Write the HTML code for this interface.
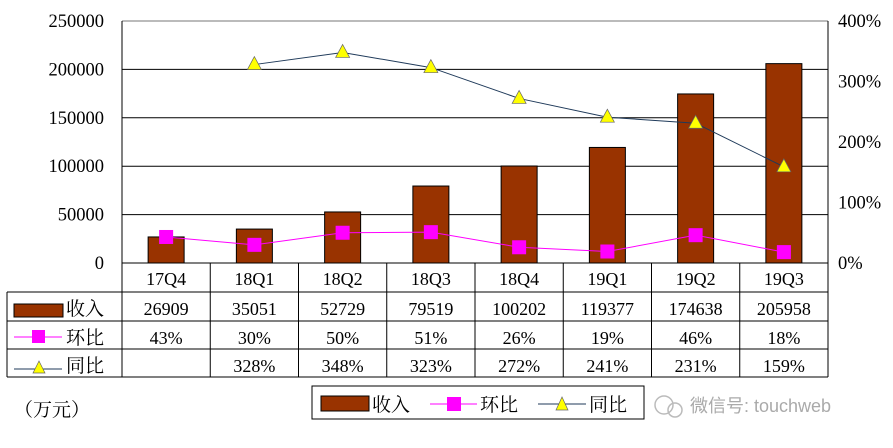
<!DOCTYPE html>
<html><head><meta charset="utf-8"><style>
body{margin:0;background:#fff;}
svg text{font-family:"Liberation Serif","Noto Serif CJK SC",serif;fill:#000;}
</style></head><body>
<svg id="c" width="893" height="443" xmlns="http://www.w3.org/2000/svg"></svg>
<script>
const categories=["17Q4","18Q1","18Q2","18Q3","18Q4","19Q1","19Q2","19Q3"];
const revenue=[26909,35051,52729,79519,100202,119377,174638,205958];
const qoq=[43,30,50,51,26,19,46,18];
const yoy=[null,328,348,323,272,241,231,159];
const leftTicks=[0,50000,100000,150000,200000,250000];
const rightTicks=[0,100,200,300,400];

const svg=document.getElementById('c');
const NS="http://www.w3.org/2000/svg";
const L=122,R=828,T=21,B=263,tblL=7;
const cw=(R-L)/categories.length;
const xc=i=>L+cw*(i+0.5);
const yL=v=>B-(v/250000)*(B-T);
const yR=v=>B-(v/400)*(B-T);
function el(tag,attrs,parent){const e=document.createElementNS(NS,tag);for(const k in attrs)e.setAttribute(k,attrs[k]);(parent||svg).appendChild(e);return e;}
function txt(s,x,y,anchor,size,parent){const t=el('text',{x:x,y:y,'text-anchor':anchor||'middle','font-size':size||18},parent);t.textContent=s;return t;}

const gl=el('g',{});
leftTicks.forEach(v=>{
  if(v>0){el('line',{x1:L,x2:R,y1:yL(v),y2:yL(v),stroke:v===250000?'#777':'#000','stroke-width':1},gl);}
  const t=txt(String(v),104,yL(v)+6,'end',18.5);
  
});
rightTicks.forEach(v=>{
  const t=txt(v+'%',838,yR(v)+6,'start',18.5);
  
});
el('line',{x1:L,x2:L,y1:T,y2:B,stroke:'#000'});
el('line',{x1:R,x2:R,y1:T,y2:B,stroke:'#000'});

revenue.forEach((v,i)=>{
  const r=el('rect',{x:xc(i)-18,y:yL(v),width:36,height:B-yL(v),fill:'#993300',stroke:'#000','stroke-width':1});
  
  
});

let d='';qoq.forEach((v,i)=>{d+=(i?'L':'M')+xc(i)+','+yR(v);});
const ql=el('path',{d:d,fill:'none',stroke:'#ff00ff','stroke-width':1});

qoq.forEach((v,i)=>{
  const m=el('rect',{x:xc(i)-7,y:yR(v)-7,width:14,height:14,fill:'#ff00ff'});
  
});
d='';let first=true;yoy.forEach((v,i)=>{if(v==null)return;d+=(first?'M':'L')+xc(i)+','+yR(v);first=false;});
const yl=el('path',{d:d,fill:'none',stroke:'#1f3a5a','stroke-width':1});

yoy.forEach((v,i)=>{if(v==null)return;const x=xc(i),y=yR(v);
  const m=el('polygon',{points:`${x},${y-8} ${x-7},${y+5} ${x+7},${y+5}`,fill:'#ffff00',stroke:'#666','stroke-width':0.7});
  
});

const rows=[263,292,321,349,377];
el('line',{x1:L,x2:R,y1:263,y2:263,stroke:'#000'});
for(let k=1;k<rows.length;k++)el('line',{x1:tblL,x2:R,y1:rows[k],y2:rows[k],stroke:'#000'});
el('line',{x1:tblL,x2:tblL,y1:292,y2:377,stroke:'#000'});
for(let i=0;i<=categories.length;i++)el('line',{x1:L+cw*i,x2:L+cw*i,y1:263,y2:377,stroke:'#000'});
categories.forEach((c,i)=>{const t=txt(c,xc(i),285,'middle',18);});
revenue.forEach((v,i)=>txt(String(v),xc(i),315,'middle',18));
qoq.forEach((v,i)=>txt(v+'%',xc(i),344,'middle',18));
yoy.forEach((v,i)=>{if(v!=null)txt(v+'%',xc(i),372,'middle',18);});
el('rect',{x:14,y:304,width:49,height:13,fill:'#993300',stroke:'#000'});
txt('收入',66,315,'start',19);
el('line',{x1:14,x2:62,y1:337,y2:337,stroke:'#ff00ff'});
el('rect',{x:32,y:330,width:13,height:13,fill:'#ff00ff'});
txt('环比',66,344,'start',19);
el('line',{x1:14,x2:62,y1:369,y2:369,stroke:'#1f3a5a'});
el('polygon',{points:'39,361 33,373 45,373',fill:'#ffff00',stroke:'#666','stroke-width':0.7});
txt('同比',66,372,'start',19);

const u=txt('（万元）',14,416,'start',19);

const lg=el('g',{});
el('rect',{x:312,y:386,width:332,height:33,fill:'#fff',stroke:'#000'},lg);
el('rect',{x:321,y:396,width:48,height:15,fill:'#993300',stroke:'#000'},lg);
txt('收入',372,411,'start',19,lg);
el('line',{x1:430,x2:477,y1:404,y2:404,stroke:'#ff00ff'},lg);
el('rect',{x:447,y:397,width:14,height:14,fill:'#ff00ff'},lg);
txt('环比',480,411,'start',19,lg);
el('line',{x1:538,x2:586,y1:404,y2:404,stroke:'#1f3a5a'},lg);
el('polygon',{points:'562,397 556,410 568,410',fill:'#ffff00',stroke:'#666','stroke-width':0.7},lg);
txt('同比',589,411,'start',19,lg);

const w=txt('微信号: touchweb',690,412,'start',18);w.style.fill='#aaa';w.style.fontFamily='"Liberation Sans","Noto Sans CJK SC",sans-serif';

el('circle',{cx:664,cy:405,r:9,fill:'none',stroke:'#bbb','stroke-width':1.5});
el('circle',{cx:675,cy:410,r:7,fill:'none',stroke:'#bbb','stroke-width':1.5});
</script>
</body></html>
